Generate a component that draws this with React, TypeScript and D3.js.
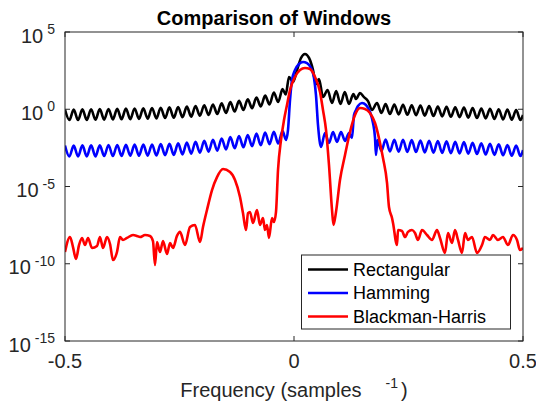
import * as d3 from "d3";

// [frequency, log10 magnitude]
const rectangular: [number, number][] = [
  [-0.5, -0.02], [-0.4905, -0.7], [-0.481, -0.02], [-0.4715, -0.7], [-0.462, -0.01], [-0.4525, -0.69],
  [-0.443, 0.0], [-0.4335, -0.68], [-0.424, 0.01], [-0.4145, -0.67], [-0.405, 0.02], [-0.3955, -0.66],
  [-0.386, 0.03], [-0.3765, -0.65], [-0.367, 0.04], [-0.3575, -0.64], [-0.348, 0.05], [-0.3385, -0.62],
  [-0.329, 0.06], [-0.3195, -0.61], [-0.31, 0.08], [-0.3005, -0.59], [-0.291, 0.1], [-0.2815, -0.57],
  [-0.272, 0.12], [-0.2625, -0.55], [-0.253, 0.15], [-0.2435, -0.51], [-0.234, 0.17], [-0.2245, -0.48],
  [-0.215, 0.21], [-0.2055, -0.42], [-0.196, 0.26], [-0.1865, -0.37], [-0.177, 0.31], [-0.1675, -0.31],
  [-0.158, 0.38], [-0.1485, -0.24], [-0.139, 0.46], [-0.1295, -0.15], [-0.12, 0.55], [-0.1105, -0.05],
  [-0.101, 0.64], [-0.0915, 0.07], [-0.082, 0.76], [-0.0725, 0.18], [-0.063, 0.89], [-0.0535, 0.31],
  [-0.044, 1.08], [-0.0345, 0.47], [-0.025, 1.3], [-0.018, 0.95], [-0.0109, 2.09], [-0.0022, 1.76],
  [0.0066, 2.54], [0.0153, 3.32], [0.024, 3.58], [0.0328, 3.32], [0.0415, 2.54], [0.048, 1.63],
  [0.0546, 1.96], [0.0633, 0.79], [0.0734, 1.25], [0.083, 0.4], [0.0921, 1.18], [0.1015, 0.34],
  [0.1109, 1.12], [0.1201, 0.34], [0.1297, 0.99], [0.1354, 0.66], [0.1441, 1.05], [0.1528, 0.79],
  [0.1616, 0.53], [0.1703, -0.05], [0.1812, 0.4], [0.191, -0.24],
  [0.2, 0.34], [0.2095, -0.31], [0.219, 0.31], [0.2285, -0.33], [0.238, 0.29], [0.2475, -0.36],
  [0.257, 0.26], [0.2665, -0.39], [0.276, 0.24], [0.2855, -0.41], [0.295, 0.21], [0.3045, -0.44],
  [0.314, 0.18], [0.3235, -0.46], [0.333, 0.16], [0.3425, -0.49], [0.352, 0.13], [0.3615, -0.51],
  [0.371, 0.11], [0.3805, -0.54], [0.39, 0.08], [0.3995, -0.57], [0.409, 0.05], [0.4185, -0.59],
  [0.428, 0.03], [0.4375, -0.63], [0.447, 0.0], [0.4565, -0.66], [0.466, -0.02], [0.4755, -0.68],
  [0.485, -0.05], [0.4945, -0.7], [0.5, -0.37],
];

const hamming: [number, number][] = [
  [-0.5, -2.35], [-0.4905, -3.06], [-0.481, -2.35], [-0.4715, -3.06], [-0.462, -2.34], [-0.4525, -3.05],
  [-0.443, -2.34], [-0.4335, -3.05], [-0.424, -2.33], [-0.4145, -3.03], [-0.405, -2.31], [-0.3955, -3.03],
  [-0.386, -2.31], [-0.3765, -3.02], [-0.367, -2.3], [-0.3575, -3.01], [-0.348, -2.29], [-0.3385, -3.01],
  [-0.329, -2.29], [-0.3195, -3.0], [-0.31, -2.28], [-0.3005, -2.99], [-0.291, -2.26], [-0.2815, -2.97],
  [-0.272, -2.24], [-0.2625, -2.95], [-0.253, -2.21], [-0.2435, -2.92], [-0.234, -2.15], [-0.2245, -2.87],
  [-0.215, -2.11], [-0.2055, -2.81], [-0.196, -2.04], [-0.1865, -2.74], [-0.177, -1.98], [-0.1675, -2.68],
  [-0.158, -1.89], [-0.1485, -2.6], [-0.139, -1.8], [-0.1295, -2.52], [-0.12, -1.73], [-0.1105, -2.46],
  [-0.101, -1.67], [-0.0915, -2.39], [-0.082, -1.58], [-0.0725, -2.33], [-0.063, -1.5], [-0.0535, -2.26],
  [-0.044, -1.46], [-0.0345, -2.22], [-0.025, -1.41], [-0.0175, -1.99], [-0.0131, -1.34], [-0.0087, 0.6],
  [-0.0044, 1.89], [0.0022, 2.54], [0.0109, 2.93], [0.0197, 3.06], [0.0284, 2.99], [0.0371, 2.67],
  [0.0437, 2.02], [0.048, 0.92], [0.0524, -1.02], [0.059, -2.44], [0.0677, -1.54], [0.0764, -2.18],
  [0.0852, -1.47], [0.0939, -2.11], [0.1026, -1.47], [0.1114, -2.05], [0.1201, -1.54], [0.1266, -1.86],
  [0.131, -0.37], [0.1354, -0.05], [0.1397, 0.21], [0.1485, 0.4], [0.1572, 0.28], [0.1659, -0.18],
  [0.1725, -0.89], [0.1769, -1.86], [0.179, -2.96], [0.1823, -1.99], [0.191, -2.7],
  [0.2, -1.96], [0.2095, -2.73], [0.219, -1.97], [0.2285, -2.75], [0.238, -1.98], [0.2475, -2.76],
  [0.257, -2.0], [0.2665, -2.77], [0.276, -2.02], [0.2855, -2.79], [0.295, -2.04], [0.3045, -2.81],
  [0.314, -2.06], [0.3235, -2.83], [0.333, -2.08], [0.3425, -2.84], [0.352, -2.11], [0.3615, -2.86],
  [0.371, -2.13], [0.3805, -2.88], [0.39, -2.17], [0.3995, -2.9], [0.409, -2.2], [0.4185, -2.93],
  [0.428, -2.23], [0.4375, -2.95], [0.447, -2.27], [0.4565, -2.98], [0.466, -2.31], [0.4755, -3.01],
  [0.485, -2.35], [0.4945, -3.03], [0.5, -2.64],
];

const blackmanHarris: [number, number][] = [
  [-0.5, -9.24], [-0.4891, -8.27], [-0.4825, -8.92], [-0.476, -9.69], [-0.4694, -8.79], [-0.4629, -8.33],
  [-0.4563, -8.79], [-0.4498, -8.33], [-0.441, -8.98], [-0.4301, -8.85], [-0.4236, -8.27], [-0.417, -8.98],
  [-0.4083, -8.27], [-0.4017, -8.72], [-0.3952, -9.76], [-0.3865, -9.24], [-0.3799, -8.27], [-0.3734, -8.46],
  [-0.3646, -8.33], [-0.3515, -8.14], [-0.3428, -8.2], [-0.3362, -8.27], [-0.3253, -8.14], [-0.3144, -8.2],
  [-0.3079, -8.53], [-0.3035, -10.08], [-0.2991, -8.59], [-0.2926, -9.24], [-0.286, -8.53], [-0.2773, -9.37],
  [-0.2707, -8.66], [-0.2642, -8.98], [-0.2555, -8.2], [-0.2489, -7.94], [-0.238, -8.79], [-0.2271, -7.62],
  [-0.2162, -7.49], [-0.2052, -8.59], [-0.1987, -7.62], [-0.19, -6.52], [-0.179, -5.23], [-0.1681, -4.39],
  [-0.155, -3.87], [-0.1397, -4.06], [-0.1288, -4.58], [-0.1179, -5.68], [-0.1114, -6.72], [-0.1048, -7.82],
  [-0.1004, -6.72], [-0.0961, -6.65], [-0.0895, -7.36], [-0.0808, -6.52], [-0.0742, -7.49], [-0.0677, -7.04],
  [-0.0633, -7.82], [-0.059, -7.49], [-0.0546, -8.33], [-0.048, -7.04], [-0.0437, -7.3], [-0.0393, -6.65],
  [-0.0349, -3.93], [-0.0284, -1.99], [-0.0218, -0.7], [-0.0153, 0.28], [-0.0087, 1.25], [0.0022, 2.09],
  [0.0131, 2.54], [0.024, 2.67], [0.0349, 2.61], [0.0459, 2.09], [0.0568, 1.12], [0.0633, -0.05],
  [0.0699, -1.34], [0.0764, -3.61], [0.083, -6.52], [0.0862, -7.49], [0.0917, -6.65], [0.1004, -4.58],
  [0.1114, -2.96], [0.1223, -1.47], [0.1332, -0.37], [0.1441, 0.08], [0.155, 0.02], [0.1659, -0.24],
  [0.1769, -0.89], [0.1878, -2.18], [0.1943, -3.16], [0.2031, -4.77], [0.2074, -6.33], [0.214, -7.04],
  [0.2162, -7.36], [0.2249, -8.79], [0.2271, -7.82], [0.2358, -7.88], [0.2424, -8.27], [0.2489, -7.94],
  [0.2576, -7.82], [0.2642, -8.01], [0.2707, -8.46], [0.2795, -7.82], [0.2904, -8.14], [0.3013, -8.46],
  [0.3122, -7.82], [0.3188, -8.33], [0.3297, -9.3], [0.3362, -8.01], [0.345, -8.66], [0.3515, -7.82],
  [0.3581, -8.46], [0.3668, -9.3], [0.3734, -8.01], [0.3799, -8.46], [0.3886, -8.27], [0.3996, -9.3],
  [0.4105, -8.79], [0.417, -8.27], [0.4279, -8.46], [0.4345, -8.14], [0.4454, -8.46], [0.4563, -8.27],
  [0.4672, -8.79], [0.4782, -8.14], [0.4869, -8.46], [0.4934, -9.11], [0.5, -8.98],
];

const seriesNames = ["Rectangular", "Hamming", "Blackman-Harris"];
const seriesColors = ["#000000", "#0000ff", "#ff0000"];
const freqTicks = [-0.5, 0, 0.5];
const freqTickLabels = ["-0.5", "0", "0.5"];
const magTickExps = [5, 0, -5, -10, -15];

const W = 536;
const H = 403;
const left = 65, right = 523, top = 32, bottom = 341;
const axisColor = "#262626";
const font = "'Liberation Sans', Arial, Helvetica, sans-serif";

export default function App() {
  const x = d3.scaleLinear().domain([-0.5, 0.5]).range([left, right]);
  const y = d3.scaleLog().domain([1e-15, 1e5]).range([bottom, top]);

  const line = d3
    .line<[number, number]>()
    .x((d) => x(d[0]))
    .y((d) => y(Math.pow(10, d[1])))
    .curve(d3.curveMonotoneX);

  const allSeries = [rectangular, hamming, blackmanHarris];
  const tick = 5;

  return (
    <svg
      width={W}
      height={H}
      style={{ position: "absolute", left: 0, top: 0, background: "#fff" }}
      fontFamily={font}
    >
      <defs>
        <clipPath id="plot-clip">
          <rect x={left} y={top} width={right - left} height={bottom - top} />
        </clipPath>
      </defs>
      <rect x={0} y={0} width={W} height={H} fill="#fff" />

      <g clipPath="url(#plot-clip)">
        {allSeries.map((s, i) => (
          <path
            key={seriesNames[i]}
            d={line(s) || ""}
            fill="none"
            stroke={seriesColors[i]}
            strokeWidth={2.6}
            strokeLinejoin="round"
          />
        ))}
      </g>

      {/* box and ticks */}
      <rect x={left} y={top} width={right - left} height={bottom - top} fill="none" stroke={axisColor} strokeWidth={1} />
      {freqTicks.map((t) => (
        <g key={"xt" + t}>
          <line x1={x(t)} x2={x(t)} y1={bottom} y2={bottom - tick} stroke={axisColor} />
          <line x1={x(t)} x2={x(t)} y1={top} y2={top + tick} stroke={axisColor} />
        </g>
      ))}
      {magTickExps.map((e) => (
        <g key={"yt" + e}>
          <line x1={left} x2={left + tick} y1={y(Math.pow(10, e))} y2={y(Math.pow(10, e))} stroke={axisColor} />
          <line x1={right} x2={right - tick} y1={y(Math.pow(10, e))} y2={y(Math.pow(10, e))} stroke={axisColor} />
        </g>
      ))}

      {/* tick labels */}
      {freqTicks.map((t, i) => (
        <text key={"xl" + t} x={x(t)} y={368} textAnchor="middle" fontSize={20} fill={axisColor}>
          {freqTickLabels[i]}
        </text>
      ))}
      {magTickExps.map((e) => {
        const yy = y(Math.pow(10, e));
        return (
          <text key={"yl" + e} x={55} y={yy + 10.5} textAnchor="end" fontSize={20} fill={axisColor}>
            10
            <tspan dx={4} dy={-8.5} fontSize={14}>
              {String(e)}
            </tspan>
          </text>
        );
      })}

      {/* title and axis label */}
      <text x={274} y={25} textAnchor="middle" fontSize={20} fontWeight="bold" fill="#000">
        Comparison of Windows
      </text>
      <text x={(left + right) / 2} y={397} textAnchor="middle" fontSize={20} fill={axisColor}>
        Frequency (samples
        <tspan dx={24} dy={-9} fontSize={14}>
          -1
        </tspan>
        <tspan dx={3} dy={9} fontSize={20}>
          )
        </tspan>
      </text>

      {/* legend */}
      <rect x={301.5} y={255} width={209} height={74} fill="#fff" stroke={axisColor} strokeWidth={1} />
      {seriesNames.map((n, i) => {
        const ly = 269.5 + i * 23.5;
        return (
          <g key={"lg" + n}>
            <line x1={308} x2={348} y1={ly} y2={ly} stroke={seriesColors[i]} strokeWidth={2.6} />
            <text x={353} y={ly + 6.3} fontSize={18} fill="#000">
              {n}
            </text>
          </g>
        );
      })}
    </svg>
  );
}
